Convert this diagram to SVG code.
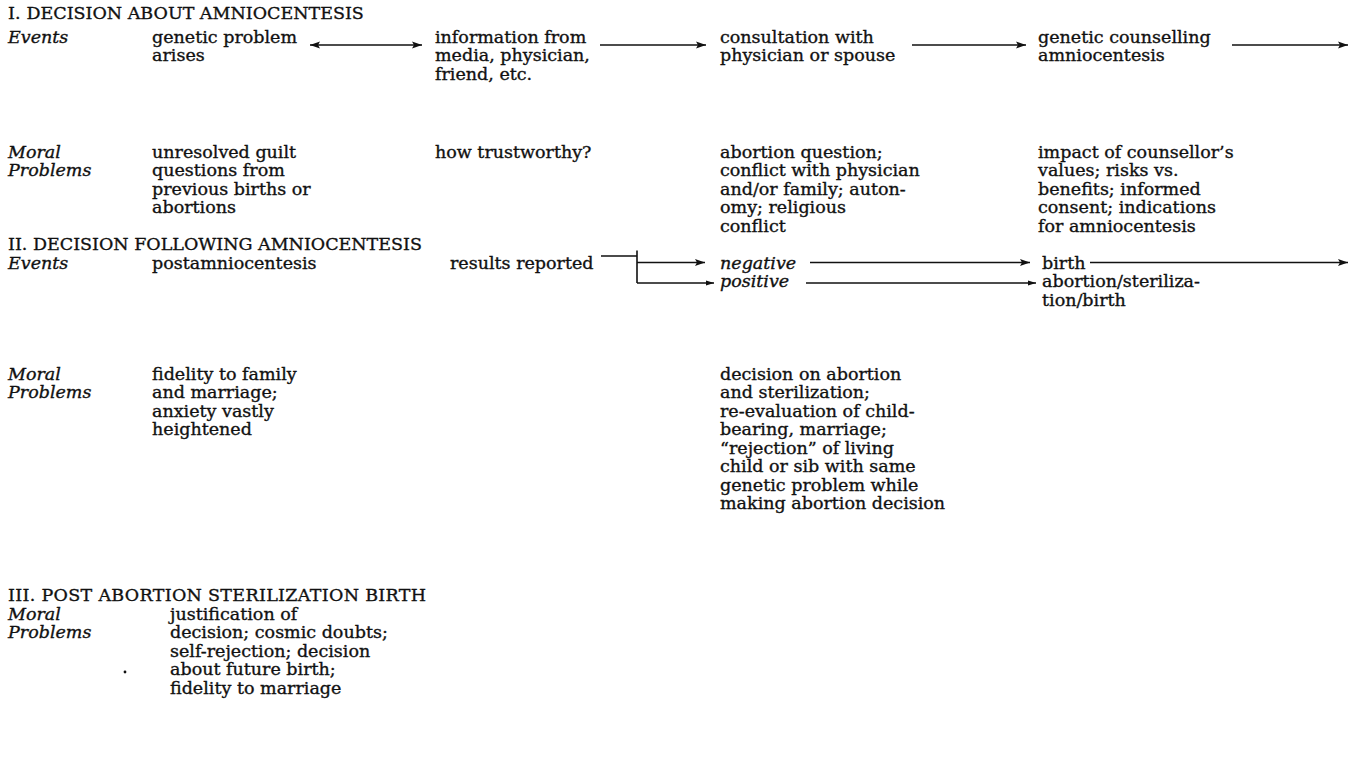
<svg xmlns="http://www.w3.org/2000/svg" width="1354" height="780" viewBox="0 0 1354 780">
<style>
text{font-family:"DejaVu Serif","Liberation Serif",serif;font-size:17.5px;fill:#111;stroke:#111;stroke-width:0.35}
.i{font-style:italic}
.c{fill:none;stroke:#111;stroke-width:1.6}
</style>
<defs>
<marker id="ah" viewBox="0 0 10 8" refX="10" refY="4" markerWidth="10" markerHeight="8" markerUnits="userSpaceOnUse" orient="auto-start-reverse">
<path d="M0,0.6 L10,4 L0,7.4 L2,4 Z" fill="#111"/>
</marker>
<marker id="ahs" viewBox="0 0 8 6" refX="8" refY="3" markerWidth="8" markerHeight="6" markerUnits="userSpaceOnUse" orient="auto">
<path d="M0,0.5 L8,3 L0,5.5 Z" fill="#111"/>
</marker>
</defs>
<rect width="1354" height="780" fill="#fff"/>

<g id="section1">
<text x="8" y="19">I.<tspan dx="6">DECISION ABOUT AMNIOCENTESIS</tspan></text>
<text class="i" x="8" y="42.5">Events</text>
<text class="i" x="8" y="157.5">Moral</text>
<text class="i" x="8" y="176">Problems</text>
</g>
<g id="n-genetic-problem"><text x="152" y="42.5">genetic problem</text><text x="152" y="61">arises</text></g>
<g id="n-information"><text x="435" y="42.5">information from</text><text x="435" y="61">media, physician,</text><text x="435" y="79.5">friend, etc.</text></g>
<g id="n-consultation"><text x="720" y="42.5">consultation with</text><text x="720" y="61">physician or spouse</text></g>
<g id="n-counselling"><text x="1038" y="42.5">genetic counselling</text><text x="1038" y="61">amniocentesis</text></g>
<g id="m1-col1"><text x="152" y="157.5">unresolved guilt</text><text x="152" y="176">questions from</text><text x="152" y="194.5">previous births or</text><text x="152" y="213">abortions</text></g>
<g id="m1-col2"><text x="435" y="157.5">how trustworthy?</text></g>
<g id="m1-col3"><text x="720" y="157.5">abortion question;</text><text x="720" y="176">conflict with physician</text><text x="720" y="194.5">and/or family; auton-</text><text x="720" y="213">omy; religious</text><text x="720" y="231.5">conflict</text></g>
<g id="m1-col4"><text x="1038" y="157.5">impact of counsellor’s</text><text x="1038" y="176">values; risks vs.</text><text x="1038" y="194.5">benefits; informed</text><text x="1038" y="213">consent; indications</text><text x="1038" y="231.5">for amniocentesis</text></g>

<g id="section2">
<text x="8" y="249.5">II. DECISION FOLLOWING AMNIOCENTESIS</text>
<text class="i" x="8" y="268.5">Events</text>
<text class="i" x="8" y="379.5">Moral</text>
<text class="i" x="8" y="398">Problems</text>
</g>
<g id="n-postamnio"><text x="152" y="268.5">postamniocentesis</text></g>
<g id="n-results"><text x="450" y="268.5">results reported</text></g>
<g id="n-negative"><text class="i" x="720" y="268.5">negative</text></g>
<g id="n-positive"><text class="i" x="720" y="287">positive</text></g>
<g id="n-birth"><text x="1042" y="268.5">birth</text></g>
<g id="n-abortion"><text x="1042" y="287">abortion/steriliza-</text><text x="1042" y="305.5">tion/birth</text></g>
<g id="m2-col1"><text x="152" y="379.5">fidelity to family</text><text x="152" y="398">and marriage;</text><text x="152" y="416.5">anxiety vastly</text><text x="152" y="435">heightened</text></g>
<g id="m2-col3"><text x="720" y="379.5">decision on abortion</text><text x="720" y="398">and sterilization;</text><text x="720" y="416.5">re-evaluation of child-</text><text x="720" y="435">bearing, marriage;</text><text x="720" y="453.5">“rejection” of living</text><text x="720" y="472">child or sib with same</text><text x="720" y="490.5">genetic problem while</text><text x="720" y="509">making abortion decision</text></g>

<g id="section3">
<text x="8" y="600.5" textLength="418" lengthAdjust="spacing">III. POST ABORTION STERILIZATION BIRTH</text>
<text class="i" x="8" y="619.5">Moral</text>
<text class="i" x="8" y="638">Problems</text>
<text x="170" y="619.5">justification of</text>
<text x="170" y="638">decision; cosmic doubts;</text>
<text x="170" y="656.5">self-rejection; decision</text>
<text x="170" y="675">about future birth;</text>
<text x="170" y="693.5">fidelity to marriage</text>
<circle cx="125" cy="672" r="1.4" fill="#111"/>
</g>

<g id="connectors">
<path class="c" d="M310,45 H422" marker-start="url(#ah)" marker-end="url(#ah)"/>
<path class="c" d="M600,45 H706" marker-end="url(#ah)"/>
<path class="c" d="M912,45 H1026" marker-end="url(#ah)"/>
<path class="c" d="M1232,45 H1348" marker-end="url(#ah)"/>
<path class="c" d="M601,256 H637 M637,250.5 V283"/>
<path class="c" d="M637,262.5 H705" marker-end="url(#ah)"/>
<path class="c" d="M637,283 H714" marker-end="url(#ahs)"/>
<path class="c" d="M810,262.5 H1030" marker-end="url(#ah)"/>
<path class="c" d="M806,283 H1036" marker-end="url(#ahs)"/>
<path class="c" d="M1090,262.5 H1348" marker-end="url(#ah)"/>
</g>
</svg>
